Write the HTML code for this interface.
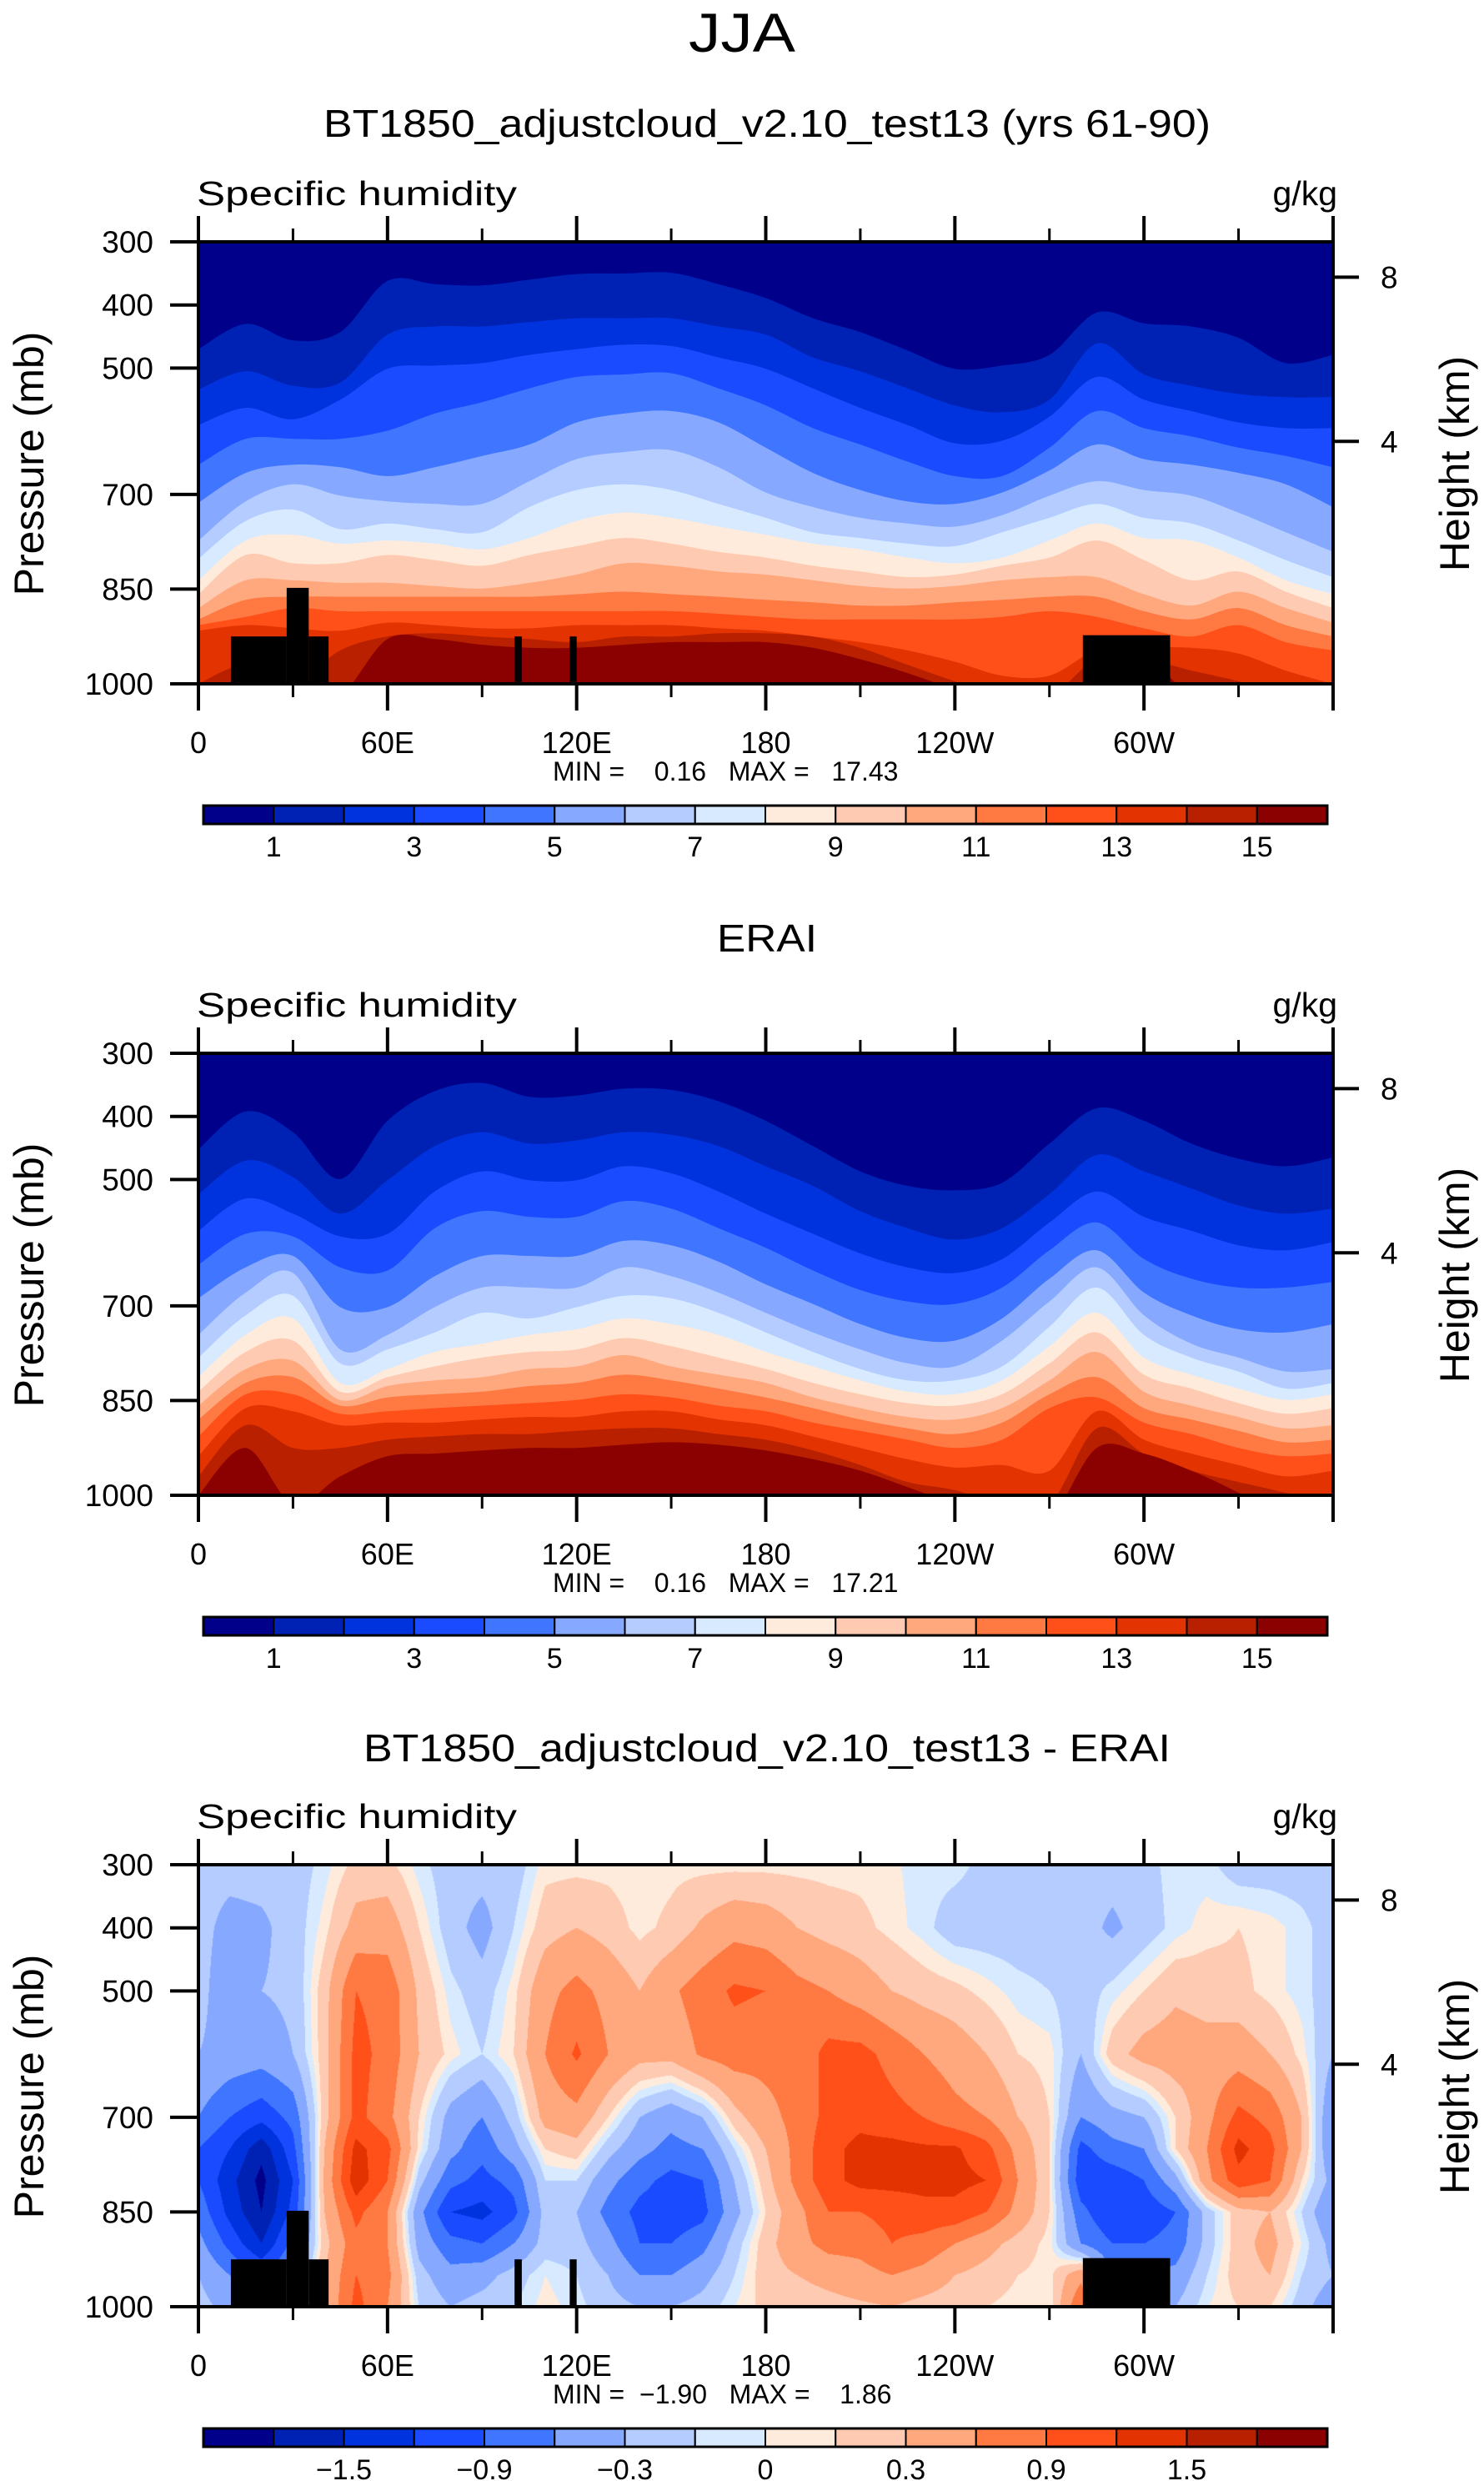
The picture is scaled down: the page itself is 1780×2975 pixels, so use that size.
<!DOCTYPE html>
<html><head><meta charset="utf-8">
<style>
html,body{margin:0;padding:0;background:#fff;}
#wrap{position:relative;width:1780px;height:2975px;overflow:hidden;}
#diffCanvas{position:absolute;left:238px;top:2236px;}
#fig{position:absolute;left:0;top:0;}
text{font-family:"Liberation Sans",sans-serif;fill:#000;}
</style></head>
<body>
<div id="wrap">
<canvas id="diffCanvas" width="1361" height="530"></canvas>
<svg id="fig" width="1780" height="2975" xmlns="http://www.w3.org/2000/svg">
<text x="890" y="62" font-size="66" text-anchor="middle" style="font-weight:300" textLength="128" lengthAdjust="spacingAndGlyphs">JJA</text>
</svg>
</div>
<script>
// ---------- data ----------
const lonGrid = [0,15,30,45,60,75,90,105,120,135,150,165,180,195,210,225,240,255,270,285,300,315,330,345,360];
const humLevels = [1,2,3,4,5,6,7,8,9,10,11,12,13,14,15];
// pressure (mb) of each humidity contour level, model
const modelC1 = [470,430,456,443,362,367,369,360,351,350,349,367,389,421,443,472,501,496,479,412,429,434,452,492,479];
const modelC2 = [534,505,528,523,447,434,434,427,421,421,421,434,447,483,505,532,559,570,550,461,510,528,541,546,546];
const modelC3 = [590,563,581,550,501,496,492,479,470,463,465,483,501,532,563,590,619,615,577,514,550,568,586,595,595];
const modelC4 = [653,612,612,612,599,572,554,532,514,510,508,532,559,595,621,648,671,671,626,568,595,608,626,639,657];
const modelC5 = [713,666,653,657,671,657,639,621,586,572,568,586,626,666,693,711,715,697,662,621,644,653,666,684,720];
const modelC6 = [773,711,684,702,711,715,715,679,644,633,630,657,697,720,737,746,751,733,702,679,693,702,729,760,791];
const modelC7 = [802,742,724,755,746,755,760,720,693,684,693,715,737,760,769,778,782,760,737,715,737,746,773,804,831];
const modelC8 = [836,773,764,778,773,778,787,769,742,729,737,751,764,778,787,800,809,800,773,746,769,773,800,836,858];
const modelC9 = [858,796,809,809,796,804,813,796,782,769,778,791,800,813,822,831,827,813,800,773,804,836,822,854,880];
const modelC10 = [880,836,836,840,840,845,849,840,827,809,813,822,827,836,845,849,845,836,831,831,858,876,854,880,903];
const modelC11 = [898,867,862,862,862,862,862,862,858,854,858,862,867,871,876,876,871,867,862,862,885,898,880,907,925];
const modelC12 = [907,894,880,885,885,885,885,885,885,885,885,889,894,898,898,898,898,894,885,894,912,925,907,934,947];
const modelC13 = [916,907,912,916,903,907,912,912,907,907,907,912,916,925,934,947,965,987,987,947,943,943,952,979,1000];
const modelC14 = [1000,970,1000,947,925,920,925,929,934,925,925,920,920,925,943,970,996,1020,1020,961,961,979,996,1020,1020];
const modelC15 = [1040,1040,1040,1020,929,929,938,943,943,938,934,934,934,943,961,983,1010,1040,1040,1020,961,1020,1040,1040,1040];
// ERAI
const eraC1 = [452,392,425,499,407,360,347,369,367,356,358,376,407,447,487,510,517,505,443,387,407,443,467,479,465];
const eraC2 = [523,470,496,554,501,447,425,443,438,425,429,447,479,510,550,577,595,577,523,461,487,514,541,554,546];
const eraC3 = [581,530,554,590,586,519,487,501,501,479,490,519,554,586,617,639,648,626,568,519,559,581,604,612,599];
const eraC4 = [635,586,590,639,644,577,550,559,559,534,546,577,608,644,675,693,697,671,612,568,626,657,671,671,662];
const eraC5 = [688,639,621,702,702,653,621,621,621,597,604,630,666,697,729,751,755,720,657,612,679,715,737,742,729];
const eraC6 = [746,679,648,769,746,702,671,671,671,639,653,679,711,742,769,791,796,755,693,639,715,760,782,804,800];
const eraC7 = [782,715,684,791,769,742,711,720,702,684,688,711,742,773,800,818,818,796,733,671,746,782,804,831,822];
const eraC8 = [813,746,720,822,800,773,760,746,737,720,729,746,773,796,818,836,840,818,764,711,782,809,831,849,840];
const eraC9 = [836,773,755,836,813,796,782,773,769,751,764,782,800,822,840,854,858,840,791,742,809,831,854,871,862];
const eraC10 = [858,800,787,849,827,818,813,800,796,778,796,809,822,845,862,876,880,862,818,773,836,858,876,894,889];
const eraC11 = [880,822,813,858,845,840,836,827,822,809,818,831,845,862,880,894,903,885,840,813,862,880,898,916,912];
const eraC12 = [907,840,840,871,867,862,858,854,849,840,845,858,867,885,898,912,925,912,862,845,885,903,925,938,934];
const eraC13 = [938,862,867,889,885,885,880,876,876,867,867,880,889,907,925,943,956,952,961,867,912,934,952,970,961];
const eraC14 = [970,889,925,925,912,907,903,903,898,894,894,903,912,929,952,979,992,1014,1014,894,934,961,979,996,1014];
const eraC15 = [1000,925,1014,970,938,934,929,925,925,920,916,920,929,943,961,987,1014,1037,1037,925,934,961,996,1037,1037];
const modelContours = [modelC1,modelC2,modelC3,modelC4,modelC5,modelC6,modelC7,modelC8,modelC9,modelC10,modelC11,modelC12,modelC13,modelC14,modelC15];
const eraContours = [eraC1,eraC2,eraC3,eraC4,eraC5,eraC6,eraC7,eraC8,eraC9,eraC10,eraC11,eraC12,eraC13,eraC14,eraC15];

// difference field grid (g/kg)
const diffLons = [0,10,20,30,40,50,60,70,80,90,100,110,120,130,140,150,160,170,180,190,200,210,220,230,240,250,260,270,280,290,300,310,320,330,340,350,360];
const diffLevels = [300,400,500,600,700,750,800,850,900,950,1000];
const diff300 = [-0.2,-0.2,-0.2,-0.2,-0.05,0.15,0.15,-0.05,-0.2,-0.2,-0.2,0.05,0.05,0.05,0.02,0.05,0.05,0.05,0.05,0.05,0.05,0.05,0.02,-0.05,-0.05,-0.15,-0.2,-0.2,-0.2,-0.2,-0.15,-0.05,-0.05,-0.2,-0.2,-0.2,-0.2];
const diff400 = [-0.2,-0.4,-0.35,-0.2,0.05,0.4,0.45,0.1,-0.2,-0.4,-0.1,0.2,0.3,0.2,0.05,0.15,0.35,0.5,0.45,0.3,0.2,0.15,0.05,-0.05,-0.2,-0.2,-0.2,-0.2,-0.2,-0.35,-0.2,-0.05,0.05,0.1,0.05,-0.05,-0.2];
const diff500 = [-0.2,-0.5,-0.3,-0.25,0.2,0.9,0.8,0.25,-0.05,-0.2,0.05,0.5,0.7,0.5,0.3,0.55,0.75,0.95,0.9,0.7,0.6,0.45,0.3,0.2,0.15,0.05,-0.05,-0.1,-0.2,-0.05,0.1,0.25,0.2,0.15,0.05,-0.05,-0.2];
const diff600 = [-0.3,-0.4,-0.45,-0.3,0.2,1.0,0.8,0.3,0.05,-0.1,0.1,0.6,0.95,0.6,0.4,0.4,0.65,0.75,0.7,0.7,1.0,1.0,0.8,0.6,0.45,0.3,0.1,0.05,-0.3,0.2,0.4,0.45,0.4,0.45,0.3,0.05,-0.3];
const diff700 = [-0.6,-0.9,-1.1,-0.8,0.2,1.0,0.7,0.1,-0.4,-0.6,-0.2,0.4,0.5,0.1,-0.3,-0.5,-0.3,0.2,0.5,0.7,1.0,1.1,1.0,0.9,0.7,0.6,0.3,0.1,-0.6,-0.4,-0.3,0.1,0.5,1.0,0.8,0.3,-0.6];
const diff750 = [-0.9,-1.2,-1.7,-1.0,0.3,1.3,1.0,0.05,-0.5,-0.8,-0.4,0.1,0.2,-0.2,-0.5,-0.7,-0.6,-0.1,0.3,0.7,1.1,1.3,1.3,1.25,1.25,1.0,0.5,0.1,-1.0,-0.7,-0.6,0.1,0.6,1.3,1.0,0.3,-0.6];
const diff800 = [-0.9,-1.4,-1.9,-1.2,0.35,1.4,0.9,-0.2,-0.8,-1.0,-0.8,-0.1,-0.1,-0.5,-0.8,-1.0,-0.9,-0.3,0.2,0.7,1.1,1.3,1.3,1.3,1.3,1.2,0.6,0.1,-1.1,-1.1,-0.9,-0.4,0.5,1.1,0.9,0.1,-0.4];
const diff850 = [-0.7,-1.3,-1.8,-1.1,0.3,1.0,0.6,-0.5,-1.2,-1.3,-1.0,-0.2,-0.3,-0.7,-1.0,-1.1,-1.0,-0.4,0.1,0.5,0.9,0.9,1.0,1.1,1.1,0.9,0.5,0.1,-0.8,-1.2,-1.1,-0.9,-0.2,0.2,0.3,-0.1,-0.6];
const diff900 = [-0.5,-1.0,-1.5,-0.8,0.2,0.8,0.6,-0.4,-0.8,-0.9,-0.6,-0.2,-0.2,-0.5,-0.9,-0.9,-0.7,-0.2,0.2,0.5,0.7,0.7,0.9,0.8,0.6,0.4,0.2,0.05,-0.6,-0.9,-0.9,-0.8,-0.2,0.2,0.4,0.0,-0.4];
const diff950 = [-0.3,-0.6,-0.9,-0.5,0.3,0.9,0.7,-0.2,-0.5,-0.4,-0.2,0.0,-0.1,-0.3,-0.6,-0.6,-0.4,-0.1,0.2,0.3,0.4,0.5,0.6,0.5,0.3,0.2,0.1,0.05,0.5,-0.6,-0.6,-0.5,-0.1,0.2,0.3,-0.1,-0.3];
const diff1000 = [-0.2,-0.4,-0.6,-0.3,0.3,1.0,0.6,-0.1,-0.3,-0.2,-0.1,0.05,-0.05,-0.2,-0.3,-0.3,-0.2,0.0,0.15,0.15,0.2,0.25,0.3,0.2,0.15,0.1,0.05,0.0,0.9,-0.4,-0.4,-0.3,0.0,0.1,0.1,-0.2,-0.5];
const diffRows = [diff300,diff400,diff500,diff600,diff700,diff750,diff800,diff850,diff900,diff950,diff1000];
const diffBounds = [-1.8,-1.5,-1.2,-0.9,-0.6,-0.3,-0.1,0,0.1,0.3,0.6,0.9,1.2,1.5,1.8];

const palette = ["#00008B","#0022B4","#0033DD","#1A4BFF","#3F75FF","#86A9FF","#B4CCFF","#D7EAFF","#FFEBDB","#FFCAB2","#FFA87E","#FF7A42","#FF5019","#E23300","#B82000","#8B0000"];

// topography: [lonStart, lonEnd, topPressure]
const landStart = [10.3,28,35,100.3,117.8,280.6];
const landEnd =   [28,35,41.3,102.6,120,308.3];
const landTop =   [925,848,925,925,925,923];

const pTicks = [300,400,500,700,850,1000];
const kmTicks = [8,4];
const kmTickP = [356,616];
const lonMajor = [0,60,120,180,240,300,360];
const lonLabels = ["0","60E","120E","180","120W","60W",""];
const lonMinor = [30,90,150,210,270,330];
const humCbLabels = ["1","3","5","7","9","11","13","15"];
const humCbIdx = [1,3,5,7,9,11,13,15];
const diffCbLabels = ["\u22121.5","\u22120.9","\u22120.3","0","0.3","0.9","1.5"];
const diffCbIdx = [2,4,6,8,10,12,14];

// ---------- geometry ----------
const X0=238, X1=1599, Y0=290, Y1=820;
const CB0=244, CB1=1592, CBT=966, CBB=988;
const NS="http://www.w3.org/2000/svg";
const svg=document.getElementById('fig');
function xs(lon){return X0+lon/360*(X1-X0);}
function ys(p,off){return off+Y0+(p-300)/700*(Y1-Y0);}
function el(tag,attrs,parent){const e=document.createElementNS(NS,tag);for(const k in attrs)e.setAttribute(k,attrs[k]);(parent||svg).appendChild(e);return e;}
function txt(str,attrs,parent){const t=el('text',attrs,parent);t.textContent=str;return t;}

function smoothPath(pts){
  let d="M"+pts[0][0].toFixed(1)+","+pts[0][1].toFixed(1);
  for(let i=0;i<pts.length-1;i++){
    const p0=pts[Math.max(0,i-1)],p1=pts[i],p2=pts[i+1],p3=pts[Math.min(pts.length-1,i+2)];
    const c1x=p1[0]+(p2[0]-p0[0])/6,c1y=p1[1]+(p2[1]-p0[1])/6;
    const c2x=p2[0]-(p3[0]-p1[0])/6,c2y=p2[1]-(p3[1]-p1[1])/6;
    d+=" C"+c1x.toFixed(1)+","+c1y.toFixed(1)+" "+c2x.toFixed(1)+","+c2y.toFixed(1)+" "+p2[0].toFixed(1)+","+p2[1].toFixed(1);
  }
  return d;
}

function drawHumidity(contours,off,idx){
  const clip=el('clipPath',{id:'clip'+idx});
  el('rect',{x:X0,y:off+Y0,width:X1-X0,height:Y1-Y0},clip);
  const g=el('g',{'clip-path':'url(#clip'+idx+')'});
  
  
  const bg=el('rect',{x:X0,y:off+Y0,width:X1-X0,height:Y1-Y0,fill:palette[0]},g);
  
  
  contours.forEach((arr,k)=>{
    const pts=arr.map((p,i)=>[xs(lonGrid[i]),ys(p,off)]);
    const d=smoothPath(pts)+" L"+(X1+5)+","+(off+Y1+60)+" L"+(X0-5)+","+(off+Y1+60)+" Z";
    const path=el('path',{d:d,fill:palette[k+1]},g);
    
    
  });
}

function drawLand(off){
  for(let i=0;i<landStart.length;i++){
    const r=el('rect',{x:xs(landStart[i]),y:ys(landTop[i],off),width:xs(landEnd[i])-xs(landStart[i]),height:ys(1000,off)-ys(landTop[i],off),fill:'#000'});
    
    
  }
}

function drawAxes(off,minmax){
  const fr=el('rect',{x:X0,y:off+Y0,width:X1-X0,height:Y1-Y0,fill:'none',stroke:'#000','stroke-width':4});
  
  
  lonMajor.forEach((lon,i)=>{
    el('line',{x1:xs(lon),x2:xs(lon),y1:off+Y0,y2:off+Y0-31,stroke:'#000','stroke-width':4});
    el('line',{x1:xs(lon),x2:xs(lon),y1:off+Y1,y2:off+Y1+32,stroke:'#000','stroke-width':4});
    if(lonLabels[i]){const t=txt(lonLabels[i],{x:xs(lon),y:off+903,'font-size':36,'text-anchor':'middle'});
      
      }
  });
  lonMinor.forEach(lon=>{
    el('line',{x1:xs(lon),x2:xs(lon),y1:off+Y0,y2:off+Y0-16,stroke:'#000','stroke-width':3});
    el('line',{x1:xs(lon),x2:xs(lon),y1:off+Y1,y2:off+Y1+16,stroke:'#000','stroke-width':3});
  });
  pTicks.forEach(p=>{
    el('line',{x1:X0,x2:X0-34,y1:ys(p,off),y2:ys(p,off),stroke:'#000','stroke-width':4});
    const t=txt(String(p),{x:184,y:ys(p,off)+13,'font-size':37,'text-anchor':'end'});
    
    
  });
  kmTicks.forEach((k,i)=>{
    el('line',{x1:X1,x2:X1+31,y1:ys(kmTickP[i],off),y2:ys(kmTickP[i],off),stroke:'#000','stroke-width':4});
    const t=txt(String(k),{x:1656,y:ys(kmTickP[i],off)+13,'font-size':37});
    
    
  });
  const yl=txt('Pressure (mb)',{x:0,y:0,'font-size':50,'text-anchor':'middle',transform:'translate(52,'+(off+556)+') rotate(-90)'});
  
  
  const hl=txt('Height (km)',{x:0,y:0,'font-size':50,'text-anchor':'middle',transform:'translate(1762,'+(off+556)+') rotate(-90)'});
  
  
  const sh=txt('Specific humidity',{x:236,y:off+246,'font-size':41,textLength:384,lengthAdjust:'spacingAndGlyphs'});
  
  
  const un=txt('g/kg',{x:1604,y:off+246,'font-size':41,'text-anchor':'end'});
  
  
  const mm=txt(minmax,{x:663,y:off+936,'font-size':32,'xml:space':'preserve',style:'white-space:pre'});
  
  
}

function drawColorbar(off,labels,idxs){
  const w=(CB1-CB0)/16;
  palette.forEach((c,i)=>{
    const r=el('rect',{x:CB0+i*w,y:off+CBT,width:w,height:CBB-CBT,fill:c,stroke:'#000','stroke-width':2});
    
    
  });
  el('rect',{x:CB0,y:off+CBT,width:CB1-CB0,height:CBB-CBT,fill:'none',stroke:'#000','stroke-width':3});
  labels.forEach((l,i)=>{
    const t=txt(l,{x:CB0+idxs[i]*w,y:off+1027,'font-size':34,'text-anchor':'middle'});
    
    
  });
}

function title(s,y,len){
  const t=txt(s,{x:920,y:y,'font-size':46,'text-anchor':'middle',textLength:len,lengthAdjust:'spacingAndGlyphs'});
  
  
}

// panel 1
title('BT1850_adjustcloud_v2.10_test13 (yrs 61-90)',164,1064);
drawHumidity(modelContours,0,1);
drawLand(0);
drawAxes(0,'MIN =    0.16   MAX =   17.43');
drawColorbar(0,humCbLabels,humCbIdx);
// panel 2
title('ERAI',1141,120);
drawHumidity(eraContours,973,2);
drawAxes(973,'MIN =    0.16   MAX =   17.21');
drawColorbar(973,humCbLabels,humCbIdx);
// panel 3
title('BT1850_adjustcloud_v2.10_test13 - ERAI',2112,968);
(function(){
  const cv=document.getElementById('diffCanvas');const ctx=cv.getContext('2d');
  const W=cv.width,H=cv.height;const img=ctx.createImageData(W,H);
  const rgb=palette.map(h=>[parseInt(h.slice(1,3),16),parseInt(h.slice(3,5),16),parseInt(h.slice(5,7),16)]);
  for(let py=0;py<H;py++){
    const p=300+(py+0.5)/H*700;
    let j=0;while(j<diffLevels.length-2&&p>diffLevels[j+1])j++;
    const ty=(p-diffLevels[j])/(diffLevels[j+1]-diffLevels[j]);
    for(let px=0;px<W;px++){
      const lon=(px+0.5)/W*360;
      let i=Math.min(diffLons.length-2,Math.floor(lon/10));
      const tx=(lon-diffLons[i])/(diffLons[i+1]-diffLons[i]);
      const a=diffRows[j][i],b=diffRows[j][i+1],c=diffRows[j+1][i],d=diffRows[j+1][i+1];
      const v=(a*(1-tx)+b*tx)*(1-ty)+(c*(1-tx)+d*tx)*ty;
      let k=0;while(k<diffBounds.length&&v>=diffBounds[k])k++;
      const o=(py*W+px)*4;img.data[o]=rgb[k][0];img.data[o+1]=rgb[k][1];img.data[o+2]=rgb[k][2];img.data[o+3]=255;
    }
  }
  ctx.putImageData(img,0,0);
})();
drawLand(1946);
drawAxes(1946,'MIN =  \u22121.90   MAX =    1.86');
drawColorbar(1946,diffCbLabels,diffCbIdx);
</script>
</body></html>
